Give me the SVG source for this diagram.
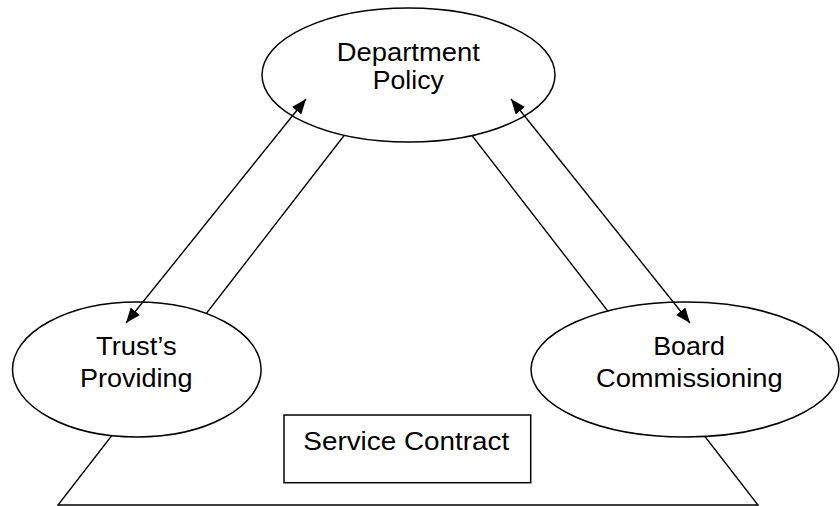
<svg xmlns="http://www.w3.org/2000/svg" width="840" height="506" viewBox="0 0 840 506">
<style>
.shape{fill:#fff;stroke:#000;stroke-width:1.5}
.edge{fill:none;stroke:#000;stroke-width:1.4}
.lbl{font-family:"Liberation Sans",Arial,sans-serif;font-size:25px;fill:#000;text-anchor:middle}
</style>
<defs>
<marker id="arr" viewBox="0 0 15 12" refX="15" refY="6" markerWidth="15" markerHeight="12" markerUnits="userSpaceOnUse" orient="auto-start-reverse">
<path d="M0,0 L15,6 L0,12 z" fill="#000"/>
</marker>
</defs>
<rect width="840" height="506" fill="#fff"/>
<g id="triangle">
<polygon class="edge" points="408,53 758,505 58,505"/>
</g>
<g id="node-department">
<ellipse class="shape" cx="408.5" cy="75" rx="146.5" ry="67"/>
<text class="lbl" x="408.3" y="61" textLength="143" lengthAdjust="spacingAndGlyphs">Department</text>
<text class="lbl" x="408.3" y="88.5" textLength="71" lengthAdjust="spacingAndGlyphs">Policy</text>
</g>
<g id="node-trust">
<ellipse class="shape" cx="136.8" cy="369.5" rx="124.3" ry="67.5"/>
<text class="lbl" x="136.3" y="355" textLength="80.7" lengthAdjust="spacingAndGlyphs">Trust’s</text>
<text class="lbl" x="136.3" y="386.7" textLength="112.7" lengthAdjust="spacingAndGlyphs">Providing</text>
</g>
<g id="node-board">
<ellipse class="shape" cx="685" cy="369.5" rx="154" ry="67.5"/>
<text class="lbl" x="689" y="355" textLength="71.7" lengthAdjust="spacingAndGlyphs">Board</text>
<text class="lbl" x="689.3" y="386.7" textLength="186.7" lengthAdjust="spacingAndGlyphs">Commissioning</text>
</g>
<g id="node-contract">
<rect class="shape" x="284" y="415" width="246.7" height="67.7"/>
<text class="lbl" x="406.3" y="450" textLength="206" lengthAdjust="spacingAndGlyphs">Service Contract</text>
</g>
<g id="connectors">
<line class="edge" x1="306" y1="99" x2="126" y2="323" marker-start="url(#arr)" marker-end="url(#arr)"/>
<line class="edge" x1="511" y1="99" x2="690" y2="323" marker-start="url(#arr)" marker-end="url(#arr)"/>
</g>
</svg>
